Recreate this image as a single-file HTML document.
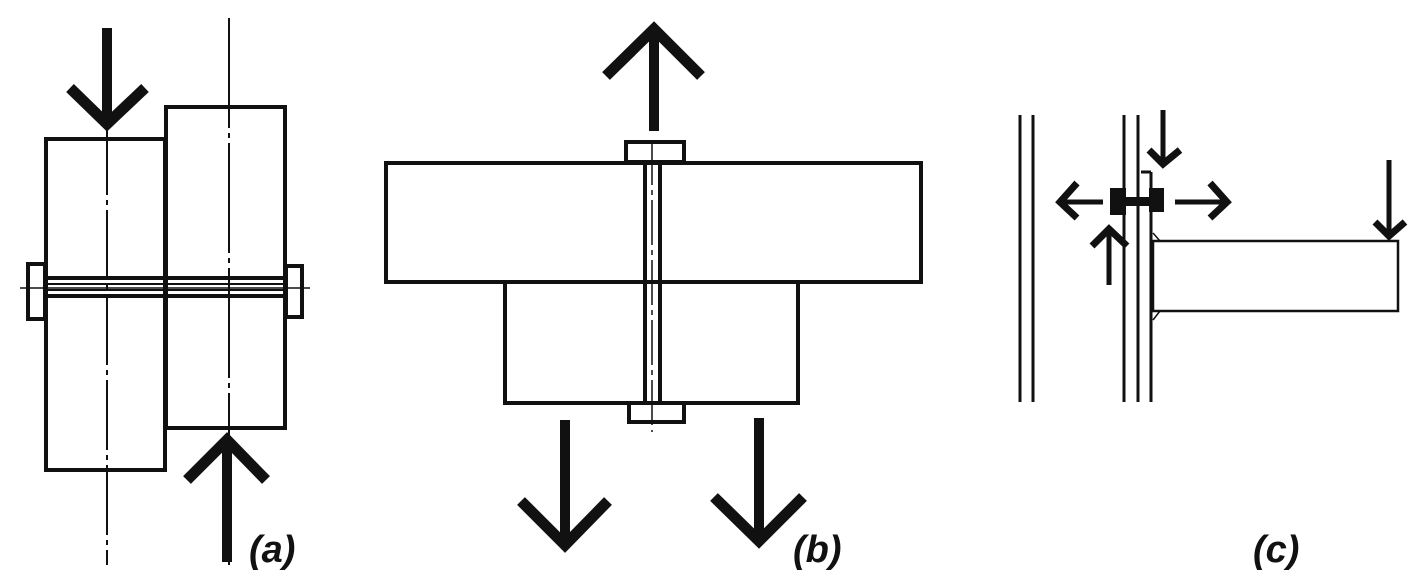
<!DOCTYPE html>
<html><head><style>
html,body{margin:0;padding:0;background:#fff;width:1426px;height:580px;overflow:hidden}
svg{display:block}
text{font-family:"Liberation Sans",sans-serif;font-weight:bold;font-style:italic;font-size:38px;fill:#111}
</style></head><body>
<svg width="1426" height="580" viewBox="0 0 1426 580" xmlns="http://www.w3.org/2000/svg">
<g fill="none" stroke="#111" stroke-linecap="butt">
<!-- (a) -->
<rect x="46" y="139" width="119" height="331" stroke-width="4"/>
<rect x="166" y="107" width="119" height="321" stroke-width="4"/>
<line x1="46" y1="278" x2="285" y2="278" stroke-width="4"/>
<line x1="46" y1="296" x2="285" y2="296" stroke-width="4"/>
<line x1="46" y1="284" x2="285" y2="284" stroke-width="2"/>
<line x1="46" y1="290" x2="285" y2="290" stroke-width="2"/>
<rect x="28" y="264" width="17" height="55" stroke-width="4"/>
<rect x="286" y="266" width="16" height="51" stroke-width="4"/>
<line x1="20" y1="288" x2="310" y2="288" stroke-width="1.5"/>
<line x1="107" y1="125" x2="107" y2="565" stroke-width="2" stroke-dasharray="70,5,5,5"/>
<line x1="229" y1="18" x2="229" y2="565" stroke-width="2" stroke-dasharray="110,5,5,5"/>
<line x1="107" y1="28" x2="107" y2="122" stroke-width="10"/>
<polyline points="70,88 107,124 145,88" stroke-width="11"/>
<line x1="227" y1="440" x2="227" y2="562" stroke-width="10"/>
<polyline points="187,480 227,440 266,480" stroke-width="11"/>
<!-- (b) -->
<rect x="386" y="163" width="535" height="119" stroke-width="4"/>
<rect x="505" y="282" width="293" height="121" stroke-width="4"/>
<rect x="626" y="142" width="58" height="20" stroke-width="4"/>
<rect x="629" y="403" width="55" height="19" stroke-width="4"/>
<line x1="645" y1="162" x2="645" y2="403" stroke-width="4"/>
<line x1="660" y1="162" x2="660" y2="403" stroke-width="4"/>
<line x1="652" y1="140" x2="652" y2="432" stroke-width="1.5" stroke-dasharray="45,5,5,5"/>
<line x1="654" y1="32" x2="654" y2="131" stroke-width="10"/>
<polyline points="606,76 654,29 701,76" stroke-width="11"/>
<line x1="565" y1="420" x2="565" y2="543" stroke-width="10"/>
<polyline points="521,501 565,545 608,501" stroke-width="11"/>
<line x1="759" y1="418" x2="759" y2="541" stroke-width="10"/>
<polyline points="714,497 759,541 803,497" stroke-width="11"/>
<!-- (c) -->
<g stroke-width="3">
<line x1="1020" y1="115" x2="1020" y2="402"/>
<line x1="1033" y1="115" x2="1033" y2="402"/>
<line x1="1124" y1="115" x2="1124" y2="402"/>
<line x1="1138" y1="115" x2="1138" y2="402"/>
<line x1="1151" y1="172" x2="1151" y2="402"/>
<line x1="1141" y1="172" x2="1151" y2="172"/>
</g>
<rect x="1153" y="241" width="245" height="70" stroke-width="2.5"/>
<polyline points="1153,233 1160,241" stroke-width="1.5"/>
<polyline points="1153,320 1160,311" stroke-width="1.5"/>
<line x1="1058" y1="202" x2="1103" y2="202" stroke-width="5"/>
<polyline points="1077,183 1060,202 1077,218" stroke-width="7"/>
<line x1="1175" y1="202" x2="1226" y2="202" stroke-width="5"/>
<polyline points="1210,183 1227,202 1210,218" stroke-width="7"/>
<line x1="1109" y1="232" x2="1109" y2="285" stroke-width="5"/>
<polyline points="1092,246 1109,229 1127,246" stroke-width="7"/>
<line x1="1163" y1="110" x2="1163" y2="162" stroke-width="5"/>
<polyline points="1149,150 1163,164 1180,150" stroke-width="7"/>
<line x1="1389" y1="160" x2="1389" y2="234" stroke-width="5"/>
<polyline points="1375,222 1389,236 1405,222" stroke-width="7"/>
</g>
<rect x="1110" y="188" width="16" height="27" fill="#111"/>
<rect x="1149" y="188" width="15" height="24" fill="#111"/>
<rect x="1110" y="197" width="54" height="9" fill="#111"/>
<text x="249" y="562">(a)</text>
<text x="793" y="562">(b)</text>
<text x="1253" y="562">(c)</text>
</svg>
</body></html>
